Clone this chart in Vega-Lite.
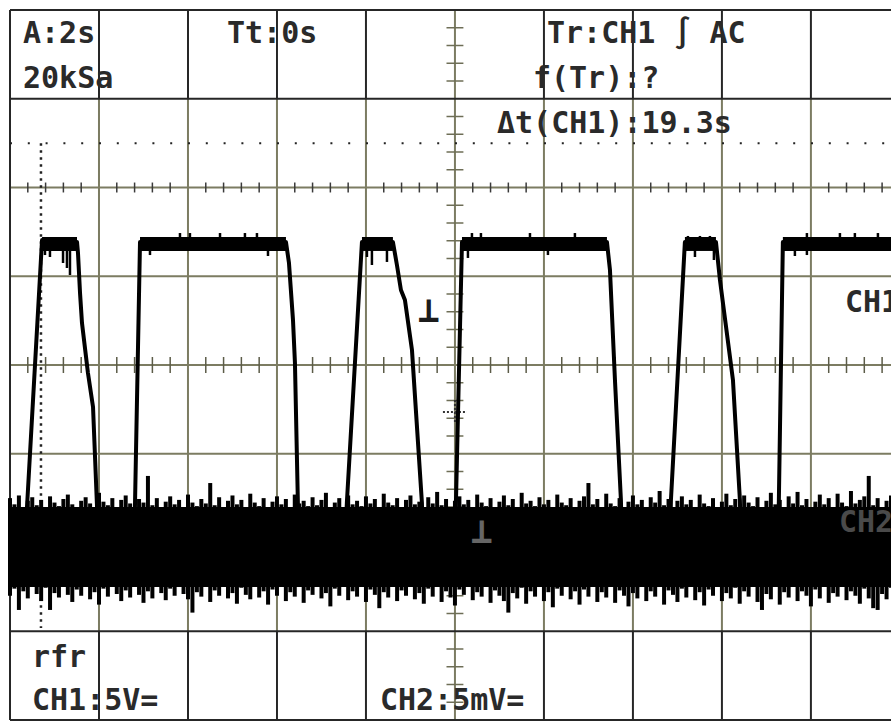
{
  "$schema": "https://vega.github.io/schema/vega-lite/v6.json",
  "width": 881,
  "height": 710,
  "padding": {"left": 10, "top": 10, "right": 0, "bottom": 2},
  "autosize": {"type": "none"},
  "background": "white",
  "config": {"view": {"stroke": null}, "axis": {"disable": true}},
  "datasets": {
    "gridOlive": [
      {"x": 1, "x2": 1, "y": -3, "y2": 3}, {"x": 2, "x2": 2, "y": -3, "y2": 3},
      {"x": 3, "x2": 3, "y": -3, "y2": 3}, {"x": 4, "x2": 4, "y": -3, "y2": 3},
      {"x": 5, "x2": 5, "y": -4, "y2": 4}, {"x": 6, "x2": 6, "y": -3, "y2": 3},
      {"x": 7, "x2": 7, "y": -3, "y2": 3}, {"x": 8, "x2": 8, "y": -3, "y2": 3},
      {"x": 9, "x2": 9, "y": -3, "y2": 3},
      {"x": 0, "x2": 9.9, "y": 2, "y2": 2}, {"x": 0, "x2": 9.9, "y": 1, "y2": 1},
      {"x": 0, "x2": 9.9, "y": 0, "y2": 0}, {"x": 0, "x2": 9.9, "y": -1, "y2": -1},
      {"x": 0, "x2": 9.9, "y": -2, "y2": -2}
    ],
    "gridDark": [
      {"x": 0, "x2": 0, "y": -4, "y2": 4},
      {"x": 1, "x2": 1, "y": 3, "y2": 4}, {"x": 2, "x2": 2, "y": 3, "y2": 4},
      {"x": 3, "x2": 3, "y": 3, "y2": 4}, {"x": 4, "x2": 4, "y": 3, "y2": 4},
      {"x": 6, "x2": 6, "y": 3, "y2": 4}, {"x": 7, "x2": 7, "y": 3, "y2": 4},
      {"x": 8, "x2": 8, "y": 3, "y2": 4}, {"x": 9, "x2": 9, "y": 3, "y2": 4},
      {"x": 1, "x2": 1, "y": -4, "y2": -3}, {"x": 2, "x2": 2, "y": -4, "y2": -3},
      {"x": 3, "x2": 3, "y": -4, "y2": -3}, {"x": 4, "x2": 4, "y": -4, "y2": -3},
      {"x": 6, "x2": 6, "y": -4, "y2": -3}, {"x": 7, "x2": 7, "y": -4, "y2": -3},
      {"x": 8, "x2": 8, "y": -4, "y2": -3}, {"x": 9, "x2": 9, "y": -4, "y2": -3},
      {"x": 0, "x2": 9.9, "y": 4, "y2": 4}, {"x": 0, "x2": 9.9, "y": 3, "y2": 3},
      {"x": 0, "x2": 9.9, "y": -3, "y2": -3}, {"x": 0, "x2": 9.9, "y": -4, "y2": -4}
    ],
    "hMinor": [
      {"p": 0.2}, {"p": 0.4}, {"p": 0.6}, {"p": 0.8}, {"p": 1.2}, {"p": 1.4}, {"p": 1.6}, {"p": 1.8},
      {"p": 2.2}, {"p": 2.4}, {"p": 2.6}, {"p": 2.8}, {"p": 3.2}, {"p": 3.4}, {"p": 3.6}, {"p": 3.8},
      {"p": 4.2}, {"p": 4.4}, {"p": 4.6}, {"p": 4.8}, {"p": 5.2}, {"p": 5.4}, {"p": 5.6}, {"p": 5.8},
      {"p": 6.2}, {"p": 6.4}, {"p": 6.6}, {"p": 6.8}, {"p": 7.2}, {"p": 7.4}, {"p": 7.6}, {"p": 7.8},
      {"p": 8.2}, {"p": 8.4}, {"p": 8.6}, {"p": 8.8}, {"p": 9.2}, {"p": 9.4}, {"p": 9.6}, {"p": 9.8}
    ],
    "vMinor": [
      {"p": -3.8}, {"p": -3.6}, {"p": -3.4}, {"p": -3.2}, {"p": -2.8}, {"p": -2.6}, {"p": -2.4}, {"p": -2.2},
      {"p": -1.8}, {"p": -1.6}, {"p": -1.4}, {"p": -1.2}, {"p": -0.8}, {"p": -0.6}, {"p": -0.4}, {"p": -0.2},
      {"p": 0.2}, {"p": 0.4}, {"p": 0.6}, {"p": 0.8}, {"p": 1.2}, {"p": 1.4}, {"p": 1.6}, {"p": 1.8},
      {"p": 2.2}, {"p": 2.4}, {"p": 2.6}, {"p": 2.8}, {"p": 3.2}, {"p": 3.4}, {"p": 3.6}, {"p": 3.8}
    ],
    "ch2": [
      {"d":0,"t":-1.50,"b":-2.60},{"d":0.05,"t":-1.57,"b":-2.52},{"d":0.1,"t":-1.47,"b":-2.76},{"d":0.15,"t":-1.60,"b":-2.55},{"d":0.2,"t":-1.53,"b":-2.63},{"d":0.25,"t":-1.49,"b":-2.49},{"d":0.3,"t":-1.58,"b":-2.58},{"d":0.35,"t":-1.52,"b":-2.66},{"d":0.4,"t":-1.62,"b":-2.51},{"d":0.45,"t":-1.48,"b":-2.76},
      {"d":0.5,"t":-1.55,"b":-2.57},{"d":0.55,"t":-1.59,"b":-2.62},{"d":0.6,"t":-1.51,"b":-2.48},{"d":0.65,"t":-1.46,"b":-2.59},{"d":0.7,"t":-1.57,"b":-2.67},{"d":0.75,"t":-1.61,"b":-2.53},{"d":0.8,"t":-1.53,"b":-2.60},{"d":0.85,"t":-1.49,"b":-2.45},{"d":0.9,"t":-1.56,"b":-2.64},{"d":0.95,"t":-1.60,"b":-2.56},
      {"d":1,"t":-1.44,"b":-2.70},{"d":1.05,"t":-1.54,"b":-2.52},{"d":1.1,"t":-1.58,"b":-2.61},{"d":1.15,"t":-1.50,"b":-2.49},{"d":1.2,"t":-1.63,"b":-2.58},{"d":1.25,"t":-1.52,"b":-2.66},{"d":1.3,"t":-1.47,"b":-2.54},{"d":1.35,"t":-1.56,"b":-2.62},{"d":1.4,"t":-1.60,"b":-2.47},{"d":1.45,"t":-1.51,"b":-2.59},
      {"d":1.5,"t":-1.55,"b":-2.68},{"d":1.55,"t":-1.25,"b":-2.55},{"d":1.6,"t":-1.58,"b":-2.63},{"d":1.65,"t":-1.50,"b":-2.50},{"d":1.7,"t":-1.61,"b":-2.57},{"d":1.75,"t":-1.54,"b":-2.65},{"d":1.8,"t":-1.48,"b":-2.52},{"d":1.85,"t":-1.57,"b":-2.60},{"d":1.9,"t":-1.52,"b":-2.46},{"d":1.95,"t":-1.60,"b":-2.58},
      {"d":2,"t":-1.46,"b":-2.64},{"d":2.05,"t":-1.55,"b":-2.79},{"d":2.1,"t":-1.59,"b":-2.56},{"d":2.15,"t":-1.51,"b":-2.61},{"d":2.2,"t":-1.56,"b":-2.49},{"d":2.25,"t":-1.33,"b":-2.67},{"d":2.3,"t":-1.58,"b":-2.54},{"d":2.35,"t":-1.49,"b":-2.60},{"d":2.4,"t":-1.62,"b":-2.45},{"d":2.45,"t":-1.53,"b":-2.63},
      {"d":2.5,"t":-1.47,"b":-2.57},{"d":2.55,"t":-1.57,"b":-2.69},{"d":2.6,"t":-1.52,"b":-2.51},{"d":2.65,"t":-1.60,"b":-2.59},{"d":2.7,"t":-1.45,"b":-2.64},{"d":2.75,"t":-1.55,"b":-2.48},{"d":2.8,"t":-1.59,"b":-2.62},{"d":2.85,"t":-1.50,"b":-2.55},{"d":2.9,"t":-1.63,"b":-2.70},{"d":2.95,"t":-1.54,"b":-2.53},
      {"d":3,"t":-1.48,"b":-2.60},{"d":3.05,"t":-1.57,"b":-2.47},{"d":3.1,"t":-1.51,"b":-2.66},{"d":3.15,"t":-1.61,"b":-2.56},{"d":3.2,"t":-1.46,"b":-2.61},{"d":3.25,"t":-1.56,"b":-2.50},{"d":3.3,"t":-1.53,"b":-2.68},{"d":3.35,"t":-1.59,"b":-2.54},{"d":3.4,"t":-1.49,"b":-2.59},{"d":3.45,"t":-1.58,"b":-2.46},
      {"d":3.5,"t":-1.52,"b":-2.63},{"d":3.55,"t":-1.44,"b":-2.57},{"d":3.6,"t":-1.60,"b":-2.72},{"d":3.65,"t":-1.55,"b":-2.52},{"d":3.7,"t":-1.50,"b":-2.60},{"d":3.75,"t":-1.62,"b":-2.49},{"d":3.8,"t":-1.47,"b":-2.65},{"d":3.85,"t":-1.57,"b":-2.55},{"d":3.9,"t":-1.53,"b":-2.61},{"d":3.95,"t":-1.59,"b":-2.48},
      {"d":4,"t":-1.48,"b":-2.67},{"d":4.05,"t":-1.56,"b":-2.53},{"d":4.1,"t":-1.51,"b":-2.59},{"d":4.15,"t":-1.61,"b":-2.74},{"d":4.2,"t":-1.45,"b":-2.56},{"d":4.25,"t":-1.55,"b":-2.62},{"d":4.3,"t":-1.58,"b":-2.50},{"d":4.35,"t":-1.50,"b":-2.66},{"d":4.4,"t":-1.63,"b":-2.54},{"d":4.45,"t":-1.52,"b":-2.60},
      {"d":4.5,"t":-1.47,"b":-2.47},{"d":4.55,"t":-1.57,"b":-2.64},{"d":4.6,"t":-1.54,"b":-2.57},{"d":4.65,"t":-1.60,"b":-2.69},{"d":4.7,"t":-1.49,"b":-2.52},{"d":4.75,"t":-1.56,"b":-2.61},{"d":4.8,"t":-1.43,"b":-2.49},{"d":4.85,"t":-1.58,"b":-2.67},{"d":4.9,"t":-1.51,"b":-2.55},{"d":4.95,"t":-1.61,"b":-2.62},
      {"d":5,"t":-1.53,"b":-2.71},{"d":5.05,"t":-1.48,"b":-2.53},{"d":5.1,"t":-1.57,"b":-2.59},{"d":5.15,"t":-1.52,"b":-2.48},{"d":5.2,"t":-1.60,"b":-2.65},{"d":5.25,"t":-1.46,"b":-2.56},{"d":5.3,"t":-1.55,"b":-2.61},{"d":5.35,"t":-1.59,"b":-2.50},{"d":5.4,"t":-1.50,"b":-2.68},{"d":5.45,"t":-1.62,"b":-2.54},
      {"d":5.5,"t":-1.54,"b":-2.60},{"d":5.55,"t":-1.47,"b":-2.66},{"d":5.6,"t":-1.58,"b":-2.79},{"d":5.65,"t":-1.51,"b":-2.57},{"d":5.7,"t":-1.60,"b":-2.63},{"d":5.75,"t":-1.44,"b":-2.51},{"d":5.8,"t":-1.56,"b":-2.69},{"d":5.85,"t":-1.53,"b":-2.55},{"d":5.9,"t":-1.59,"b":-2.61},{"d":5.95,"t":-1.49,"b":-2.47},
      {"d":6,"t":-1.57,"b":-2.66},{"d":6.05,"t":-1.52,"b":-2.56},{"d":6.1,"t":-1.61,"b":-2.73},{"d":6.15,"t":-1.46,"b":-2.52},{"d":6.2,"t":-1.55,"b":-2.60},{"d":6.25,"t":-1.58,"b":-2.49},{"d":6.3,"t":-1.50,"b":-2.64},{"d":6.35,"t":-1.63,"b":-2.55},{"d":6.4,"t":-1.53,"b":-2.70},{"d":6.45,"t":-1.48,"b":-2.53},
      {"d":6.5,"t":-1.33,"b":-2.61},{"d":6.55,"t":-1.57,"b":-2.48},{"d":6.6,"t":-1.51,"b":-2.67},{"d":6.65,"t":-1.60,"b":-2.56},{"d":6.7,"t":-1.45,"b":-2.62},{"d":6.75,"t":-1.56,"b":-2.50},{"d":6.8,"t":-1.59,"b":-2.68},{"d":6.85,"t":-1.50,"b":-2.54},{"d":6.9,"t":-1.62,"b":-2.60},{"d":6.95,"t":-1.54,"b":-2.72},
      {"d":7,"t":-1.47,"b":-2.57},{"d":7.05,"t":-1.57,"b":-2.63},{"d":7.1,"t":-1.52,"b":-2.49},{"d":7.15,"t":-1.60,"b":-2.66},{"d":7.2,"t":-1.49,"b":-2.55},{"d":7.25,"t":-1.55,"b":-2.61},{"d":7.3,"t":-1.42,"b":-2.47},{"d":7.35,"t":-1.58,"b":-2.70},{"d":7.4,"t":-1.51,"b":-2.54},{"d":7.45,"t":-1.61,"b":-2.59},
      {"d":7.5,"t":-1.53,"b":-2.67},{"d":7.55,"t":-1.48,"b":-2.52},{"d":7.6,"t":-1.57,"b":-2.62},{"d":7.65,"t":-1.52,"b":-2.48},{"d":7.7,"t":-1.60,"b":-2.65},{"d":7.75,"t":-1.46,"b":-2.56},{"d":7.8,"t":-1.56,"b":-2.71},{"d":7.85,"t":-1.59,"b":-2.53},{"d":7.9,"t":-1.50,"b":-2.60},{"d":7.95,"t":-1.62,"b":-2.49},
      {"d":8,"t":-1.54,"b":-2.66},{"d":8.05,"t":-1.45,"b":-2.57},{"d":8.1,"t":-1.58,"b":-2.63},{"d":8.15,"t":-1.51,"b":-2.51},{"d":8.2,"t":-1.60,"b":-2.69},{"d":8.25,"t":-1.47,"b":-2.55},{"d":8.3,"t":-1.55,"b":-2.61},{"d":8.35,"t":-1.59,"b":-2.48},{"d":8.4,"t":-1.49,"b":-2.67},{"d":8.45,"t":-1.61,"b":-2.76},
      {"d":8.5,"t":-1.53,"b":-2.58},{"d":8.55,"t":-1.44,"b":-2.64},{"d":8.6,"t":-1.57,"b":-2.50},{"d":8.65,"t":-1.52,"b":-2.70},{"d":8.7,"t":-1.60,"b":-2.56},{"d":8.75,"t":-1.48,"b":-2.62},{"d":8.8,"t":-1.56,"b":-2.47},{"d":8.85,"t":-1.43,"b":-2.66},{"d":8.9,"t":-1.58,"b":-2.55},{"d":8.95,"t":-1.51,"b":-2.60},
      {"d":9,"t":-1.62,"b":-2.72},{"d":9.05,"t":-1.54,"b":-2.53},{"d":9.1,"t":-1.46,"b":-2.63},{"d":9.15,"t":-1.57,"b":-2.49},{"d":9.2,"t":-1.50,"b":-2.68},{"d":9.25,"t":-1.60,"b":-2.57},{"d":9.3,"t":-1.45,"b":-2.61},{"d":9.35,"t":-1.55,"b":-2.46},{"d":9.4,"t":-1.59,"b":-2.65},{"d":9.45,"t":-1.42,"b":-2.55},
      {"d":9.5,"t":-1.56,"b":-2.60},{"d":9.55,"t":-1.52,"b":-2.69},{"d":9.6,"t":-1.48,"b":-2.52},{"d":9.65,"t":-1.25,"b":-2.63},{"d":9.7,"t":-1.58,"b":-2.74},{"d":9.75,"t":-1.50,"b":-2.76},{"d":9.8,"t":-1.61,"b":-2.58},{"d":9.85,"t":-1.53,"b":-2.64},{"d":9.9,"t":-1.47,"b":-2.51}
    ],
    "ch1": [
      {"d":0.169,"v":-2.028},{"d":0.191,"v":-1.600},{"d":0.360,"v":1.408},{"d":0.753,"v":1.386},{"d":0.764,"v":1.262},{"d":0.787,"v":0.811},{"d":0.809,"v":0.473},{"d":0.876,"v":-0.090},{"d":0.933,"v":-0.473},{"d":0.978,"v":-1.600},{"d":0.989,"v":-2.028},
      {"d":1.382,"v":-2.028},{"d":1.404,"v":-1.600},{"d":1.461,"v":1.386},{"d":3.101,"v":1.386},{"d":3.135,"v":1.149},{"d":3.180,"v":0.507},{"d":3.202,"v":0.023},{"d":3.236,"v":-1.600},{"d":3.247,"v":-2.028},
      {"d":3.764,"v":-2.028},{"d":3.787,"v":-1.521},{"d":3.955,"v":1.386},{"d":4.303,"v":1.386},{"d":4.348,"v":1.127},{"d":4.393,"v":0.845},{"d":4.438,"v":0.732},{"d":4.517,"v":0.169},{"d":4.629,"v":-1.555},{"d":4.640,"v":-2.028},
      {"d":5.000,"v":-2.028},{"d":5.011,"v":-1.555},{"d":5.079,"v":1.386},{"d":6.708,"v":1.386},{"d":6.742,"v":1.070},{"d":6.798,"v":-0.169},{"d":6.865,"v":-1.521},{"d":6.876,"v":-2.028},
      {"d":7.416,"v":-2.028},{"d":7.427,"v":-1.521},{"d":7.584,"v":1.386},{"d":7.933,"v":1.386},{"d":7.978,"v":0.958},{"d":8.124,"v":-0.169},{"d":8.202,"v":-1.521},{"d":8.213,"v":-2.028},
      {"d":8.629,"v":-2.028},{"d":8.640,"v":-1.521},{"d":8.685,"v":1.386},{"d":9.899,"v":1.386}
    ],
    "ch1Tops": [
      {"a":0.360,"b":0.753},{"a":1.461,"b":3.101},{"a":3.955,"b":4.303},
      {"a":5.079,"b":6.708},{"a":7.584,"b":7.933},{"a":8.685,"b":9.9}
    ],
    "ch1Spikes": [
      {"d":0.393,"lo":1.239,"hi":1.30},{"d":0.449,"lo":1.217,"hi":1.30},{"d":0.596,"lo":1.149,"hi":1.30},{"d":0.640,"lo":1.093,"hi":1.30},{"d":0.674,"lo":1.014,"hi":1.30},
      {"d":1.573,"lo":1.239,"hi":1.30},{"d":1.910,"lo":1.40,"hi":1.487},{"d":2.022,"lo":1.40,"hi":1.487},{"d":2.360,"lo":1.40,"hi":1.487},{"d":2.640,"lo":1.40,"hi":1.487},{"d":2.775,"lo":1.40,"hi":1.487},{"d":2.899,"lo":1.228,"hi":1.30},
      {"d":4.011,"lo":1.217,"hi":1.30},{"d":4.067,"lo":1.127,"hi":1.30},{"d":4.236,"lo":1.161,"hi":1.30},
      {"d":5.146,"lo":1.206,"hi":1.30},{"d":5.191,"lo":1.40,"hi":1.487},{"d":5.292,"lo":1.40,"hi":1.487},{"d":5.843,"lo":1.40,"hi":1.487},{"d":6.045,"lo":1.239,"hi":1.30},{"d":6.348,"lo":1.40,"hi":1.487},
      {"d":7.618,"lo":1.40,"hi":1.454},{"d":7.697,"lo":1.217,"hi":1.30},{"d":7.753,"lo":1.40,"hi":1.454},{"d":7.865,"lo":1.40,"hi":1.454},{"d":7.910,"lo":1.183,"hi":1.30},
      {"d":8.820,"lo":1.228,"hi":1.30},{"d":8.955,"lo":1.239,"hi":1.487},{"d":9.326,"lo":1.40,"hi":1.487},{"d":9.494,"lo":1.40,"hi":1.487},{"d":9.753,"lo":1.40,"hi":1.487}
    ],
    "labels": [
      {"s": "A:2s", "d": 0.146, "v": 3.628},
      {"s": "20kSa", "d": 0.146, "v": 3.121},
      {"s": "Tt:0s", "d": 2.438, "v": 3.628},
      {"s": "Tr:CH1 ∫ AC", "d": 6.034, "v": 3.628},
      {"s": "f(Tr):?", "d": 5.876, "v": 3.121},
      {"s": "Δt(CH1):19.3s", "d": 5.472, "v": 2.614},
      {"s": "CH1", "d": 9.382, "v": 0.597},
      {"s": "rfr", "d": 0.247, "v": -3.403},
      {"s": "CH1:5V=", "d": 0.247, "v": -3.887},
      {"s": "CH2:5mV=", "d": 4.157, "v": -3.887}
    ],
    "trigMark": [
      {"x": 4.865, "x2": 5.135, "y": -0.53, "y2": -0.53},
      {"x": 5, "x2": 5, "y": -0.394, "y2": -0.665}
    ]
  },
  "layer": [
    {
      "data": {"name": "gridOlive"},
      "mark": {"type": "rule", "color": "#7c7c62", "strokeWidth": 2},
      "encoding": {
        "x": {"field": "x", "type": "quantitative", "scale": {"domain": [0, 9.9], "nice": false, "zero": false}, "axis": null},
        "x2": {"field": "x2"},
        "y": {"field": "y", "type": "quantitative", "scale": {"domain": [-4, 4], "nice": false, "zero": false}, "axis": null},
        "y2": {"field": "y2"}
      }
    },
    {
      "data": {"name": "gridDark"},
      "mark": {"type": "rule", "color": "#262626", "strokeWidth": 2},
      "encoding": {
        "x": {"field": "x", "type": "quantitative", "scale": {"domain": [0, 9.9], "nice": false, "zero": false}, "axis": null},
        "x2": {"field": "x2"},
        "y": {"field": "y", "type": "quantitative", "scale": {"domain": [-4, 4], "nice": false, "zero": false}, "axis": null},
        "y2": {"field": "y2"}
      }
    },
    {
      "data": {"name": "hMinor"},
      "mark": {"type": "rule", "color": "#3a3a3a", "strokeWidth": 1.5},
      "encoding": {
        "x": {"field": "p", "type": "quantitative", "scale": {"domain": [0, 9.9], "nice": false, "zero": false}, "axis": null},
        "y": {"datum": 1.944, "type": "quantitative", "scale": {"domain": [-4, 4], "nice": false, "zero": false}, "axis": null},
        "y2": {"datum": 2.056}
      }
    },
    {
      "data": {"name": "hMinor"},
      "mark": {"type": "rule", "color": "#5c5c48", "strokeWidth": 1.5},
      "encoding": {
        "x": {"field": "p", "type": "quantitative", "scale": {"domain": [0, 9.9], "nice": false, "zero": false}, "axis": null},
        "y": {"datum": -0.09, "type": "quantitative", "scale": {"domain": [-4, 4], "nice": false, "zero": false}, "axis": null},
        "y2": {"datum": 0.09}
      }
    },
    {
      "data": {"name": "vMinor"},
      "mark": {"type": "rule", "color": "#6e6e56", "strokeWidth": 1.5},
      "encoding": {
        "y": {"field": "p", "type": "quantitative", "scale": {"domain": [-4, 4], "nice": false, "zero": false}, "axis": null},
        "x": {"datum": 4.905, "type": "quantitative", "scale": {"domain": [0, 9.9], "nice": false, "zero": false}, "axis": null},
        "x2": {"datum": 5.095}
      }
    },
    {
      "data": {"values": [{}]},
      "mark": {"type": "rule", "color": "#222222", "strokeWidth": 2, "strokeDash": [2, 15.8]},
      "encoding": {
        "x": {"datum": 0, "type": "quantitative", "scale": {"domain": [0, 9.9], "nice": false, "zero": false}, "axis": null},
        "x2": {"datum": 9.9},
        "y": {"datum": 2.5, "type": "quantitative", "scale": {"domain": [-4, 4], "nice": false, "zero": false}, "axis": null}
      }
    },
    {
      "data": {"values": [{}]},
      "mark": {"type": "rule", "color": "#222222", "strokeWidth": 2.5, "strokeDash": [2.5, 4.5]},
      "encoding": {
        "x": {"datum": 0.348, "type": "quantitative", "scale": {"domain": [0, 9.9], "nice": false, "zero": false}, "axis": null},
        "y": {"datum": 2.5, "type": "quantitative", "scale": {"domain": [-4, 4], "nice": false, "zero": false}, "axis": null},
        "y2": {"datum": -2.963}
      }
    },
    {
      "data": {"name": "trigMark"},
      "mark": {"type": "rule", "color": "#333333", "strokeWidth": 2, "strokeDash": [2, 2]},
      "encoding": {
        "x": {"field": "x", "type": "quantitative", "scale": {"domain": [0, 9.9], "nice": false, "zero": false}, "axis": null},
        "x2": {"field": "x2"},
        "y": {"field": "y", "type": "quantitative", "scale": {"domain": [-4, 4], "nice": false, "zero": false}, "axis": null},
        "y2": {"field": "y2"}
      }
    },
    {
      "data": {"values": [{}]},
      "mark": {"type": "rect", "color": "black"},
      "encoding": {
        "x": {"datum": 0, "type": "quantitative", "scale": {"domain": [0, 9.9], "nice": false, "zero": false}, "axis": null},
        "x2": {"datum": 9.9},
        "y": {"datum": -1.6, "type": "quantitative", "scale": {"domain": [-4, 4], "nice": false, "zero": false}, "axis": null},
        "y2": {"datum": -2.5}
      }
    },
    {
      "data": {"name": "ch2"},
      "mark": {"type": "rule", "color": "black", "strokeWidth": 4},
      "encoding": {
        "x": {"field": "d", "type": "quantitative", "scale": {"domain": [0, 9.9], "nice": false, "zero": false}, "axis": null},
        "y": {"field": "t", "type": "quantitative", "scale": {"domain": [-4, 4], "nice": false, "zero": false}, "axis": null},
        "y2": {"field": "b"}
      }
    },
    {
      "data": {"name": "ch1"},
      "mark": {"type": "line", "color": "black", "strokeWidth": 4, "strokeJoin": "round"},
      "encoding": {
        "x": {"field": "d", "type": "quantitative", "scale": {"domain": [0, 9.9], "nice": false, "zero": false}, "axis": null},
        "y": {"field": "v", "type": "quantitative", "scale": {"domain": [-4, 4], "nice": false, "zero": false}, "axis": null}
      }
    },
    {
      "data": {"name": "ch1Tops"},
      "mark": {"type": "rect", "color": "black"},
      "encoding": {
        "x": {"field": "a", "type": "quantitative", "scale": {"domain": [0, 9.9], "nice": false, "zero": false}, "axis": null},
        "x2": {"field": "b"},
        "y": {"datum": 1.442, "type": "quantitative", "scale": {"domain": [-4, 4], "nice": false, "zero": false}, "axis": null},
        "y2": {"datum": 1.285}
      }
    },
    {
      "data": {"name": "ch1Spikes"},
      "mark": {"type": "rule", "color": "black", "strokeWidth": 2.5},
      "encoding": {
        "x": {"field": "d", "type": "quantitative", "scale": {"domain": [0, 9.9], "nice": false, "zero": false}, "axis": null},
        "y": {"field": "lo", "type": "quantitative", "scale": {"domain": [-4, 4], "nice": false, "zero": false}, "axis": null},
        "y2": {"field": "hi"}
      }
    },
    {
      "data": {"name": "labels"},
      "mark": {"type": "text", "font": "DejaVu Sans Mono", "fontSize": 30, "fontWeight": "bold", "color": "#2a2a2a", "align": "left", "baseline": "alphabetic"},
      "encoding": {
        "x": {"field": "d", "type": "quantitative", "scale": {"domain": [0, 9.9], "nice": false, "zero": false}, "axis": null},
        "y": {"field": "v", "type": "quantitative", "scale": {"domain": [-4, 4], "nice": false, "zero": false}, "axis": null},
        "text": {"field": "s"}
      }
    },
    {
      "data": {"values": [{"s": "CH2", "d": 9.315, "v": -1.882}]},
      "mark": {"type": "text", "font": "DejaVu Sans Mono", "fontSize": 30, "fontWeight": "bold", "color": "#4a4a4a", "align": "left", "baseline": "alphabetic"},
      "encoding": {
        "x": {"field": "d", "type": "quantitative", "scale": {"domain": [0, 9.9], "nice": false, "zero": false}, "axis": null},
        "y": {"field": "v", "type": "quantitative", "scale": {"domain": [-4, 4], "nice": false, "zero": false}, "axis": null},
        "text": {"field": "s"}
      }
    },
    {
      "data": {"values": [{"s": "⊥", "d": 4.708, "v": 0.485}]},
      "mark": {"type": "text", "font": "DejaVu Sans Mono", "fontSize": 36, "fontWeight": "bold", "color": "#1c1c1c", "align": "center", "baseline": "alphabetic"},
      "encoding": {
        "x": {"field": "d", "type": "quantitative", "scale": {"domain": [0, 9.9], "nice": false, "zero": false}, "axis": null},
        "y": {"field": "v", "type": "quantitative", "scale": {"domain": [-4, 4], "nice": false, "zero": false}, "axis": null},
        "text": {"field": "s"}
      }
    },
    {
      "data": {"values": [{"s": "⊥", "d": 5.303, "v": -2.006}]},
      "mark": {"type": "text", "font": "DejaVu Sans Mono", "fontSize": 36, "fontWeight": "bold", "color": "#666666", "align": "center", "baseline": "alphabetic"},
      "encoding": {
        "x": {"field": "d", "type": "quantitative", "scale": {"domain": [0, 9.9], "nice": false, "zero": false}, "axis": null},
        "y": {"field": "v", "type": "quantitative", "scale": {"domain": [-4, 4], "nice": false, "zero": false}, "axis": null},
        "text": {"field": "s"}
      }
    }
  ]
}
